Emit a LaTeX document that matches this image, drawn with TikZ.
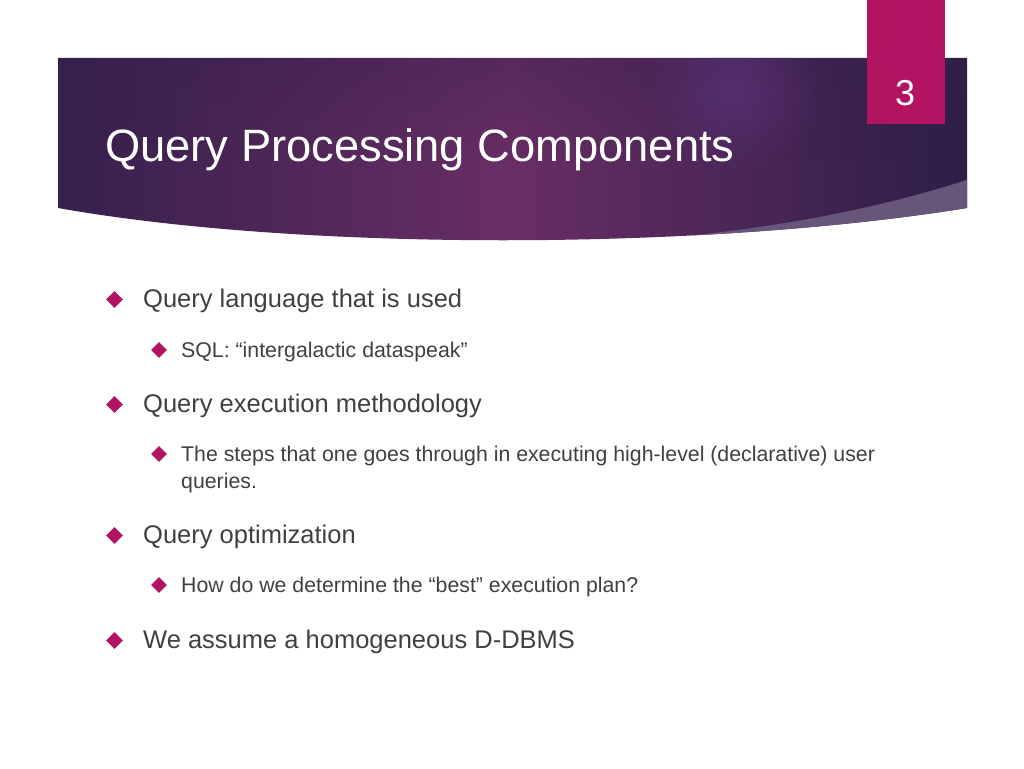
\documentclass[tikz,border=0pt]{standalone}
\usepackage{fontspec}
\setmainfont{Liberation Sans}
\usetikzlibrary{shapes.geometric,positioning,fadings}

\definecolor{bandleft}{RGB}{54,32,76}
\definecolor{bandmid}{RGB}{104,46,100}
\definecolor{bandright}{RGB}{44,30,70}
\definecolor{glow}{RGB}{90,52,124}
\definecolor{swoosh}{RGB}{104,86,122}
\definecolor{accent}{RGB}{178,20,98}
\definecolor{bodygray}{RGB}{64,64,64}

\tikzfading[name=glowfade, inner color=transparent!0, outer color=transparent!100]

\tikzset{
  bullet/.style={diamond, fill=accent, inner sep=0pt, minimum size=17pt},
  subbullet/.style={diamond, fill=accent, inner sep=0pt, minimum size=16pt},
  itemone/.style={anchor=base west, inner sep=0pt, text=bodygray, font=\fontsize{25.5}{30}\selectfont},
  itemtwo/.style={anchor=base west, inner sep=0pt, text=bodygray, font=\fontsize{21.3}{27}\selectfont},
}

\begin{document}
\begin{tikzpicture}[x=1pt,y=-1pt]
    \useasboundingbox[fill=white] (0,0) rectangle (1024,768);
    % title band
    \shade[left color=bandleft, right color=bandright, middle color=bandmid]
        (58,58) -- (967,58) -- (967,208) .. controls (700,251) and (300,251) .. (58,208) -- cycle;
    \begin{scope}
        \clip (58,58) -- (967,58) -- (967,208) .. controls (700,251) and (300,251) .. (58,208) -- cycle;
        \fill[bandleft, opacity=0.35, path fading=south] (58,58) rectangle (967,160);
        \fill[glow, opacity=0.7, path fading=glowfade] (735,88) circle[radius=90];
        \fill[swoosh] (967,180) .. controls (860,214) and (740,236) .. (560,246) -- (560,300) -- (1000,300) -- (1000,180) -- cycle;
    \end{scope}
    % page number
    \fill[accent] (867,0) rectangle (945,124);
    \node[anchor=base, inner sep=0pt, text=white, font=\fontsize{36}{40}\selectfont] (num) at (905,105) {3};
    \node[anchor=base west, inner sep=0pt, text=white, font=\fontsize{45.3}{54}\selectfont] (title) at (105,161) {Query Processing Components};
    % level one items
    \foreach \y/\name/\txt in {307/lang/Query language that is used, 412/exec/Query execution methodology,
        543/opt/Query optimization, 648/homog/We assume a homogeneous D-DBMS}{
        \node[bullet] (\name b) at (114.5,\y-7.5) {};
        \node[itemone] (\name) at (143,\y) {\txt};
    }
    % level two items
    \foreach \y/\name/\txt in {357/sql/SQL: “intergalactic dataspeak”,
        461/steps/The steps that one goes through in executing high-level (declarative) user,
        592/best/How do we determine the “best” execution plan?}{
        \node[subbullet] (\name b) at (159,\y-7) {};
        \node[itemtwo] (\name) at (181,\y) {\txt};
    }
    \node[itemtwo] (stepsq) at (181,488) {queries.};
\end{tikzpicture}
\end{document}
